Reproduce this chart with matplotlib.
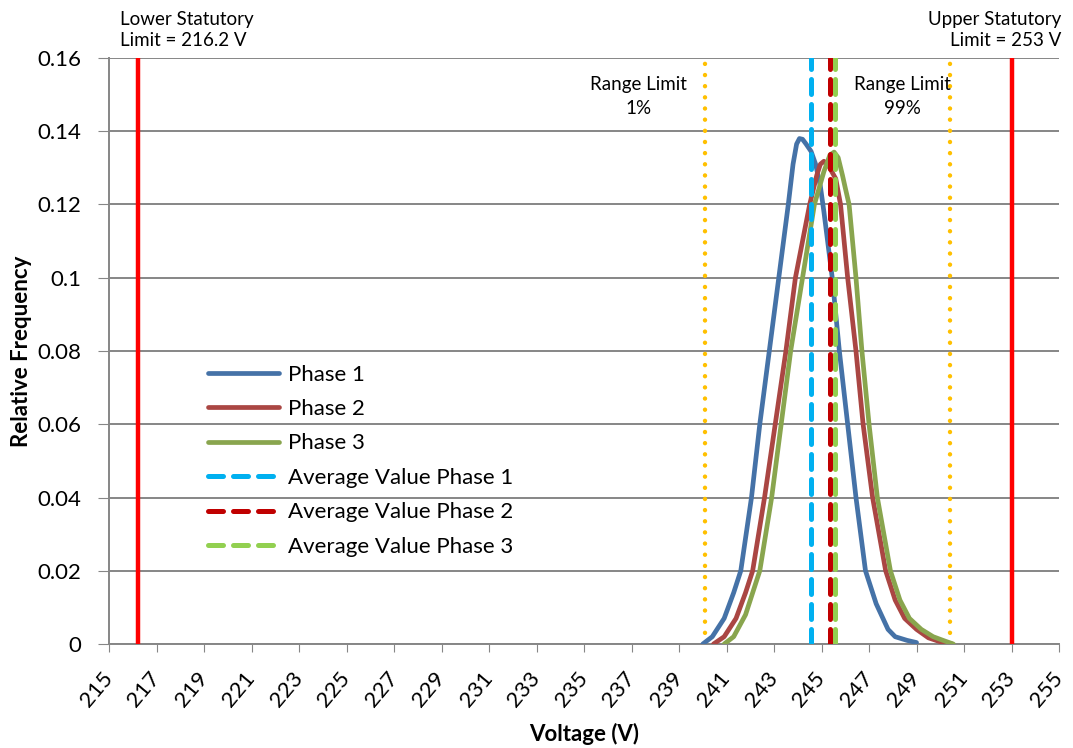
import numpy as np
import matplotlib
matplotlib.use("Agg")
import matplotlib.pyplot as plt
import matplotlib.transforms as mtransforms

plt.rcParams['font.family'] = ['Lato', 'DejaVu Sans']

# voltage distribution per phase (V, relative frequency)
v_phase1 = [240.0, 240.4, 240.9, 241.3, 241.6, 242.05, 242.4, 242.8, 243.2, 243.6, 243.8, 243.95,
            244.07, 244.2, 244.35, 244.56, 244.75, 244.95, 245.1, 245.45, 245.75, 246.1, 246.45,
            246.85, 247.3, 247.8, 248.1, 248.6, 249.0]
f_phase1 = [0.0, 0.002, 0.007, 0.014, 0.02, 0.04, 0.06, 0.08, 0.10, 0.12, 0.131, 0.1365,
            0.138, 0.1378, 0.1365, 0.1345, 0.131, 0.125, 0.118, 0.10, 0.08, 0.06, 0.04,
            0.02, 0.011, 0.004, 0.002, 0.001, 0.0004]

v_phase2 = [240.45, 240.9, 241.4, 241.8, 242.1, 242.6, 243.05, 243.5, 243.9, 244.5, 244.8, 244.95,
            245.1, 245.3, 245.6, 245.8, 246.1, 246.45, 246.75, 247.15, 247.7, 248.1, 248.5,
            249.0, 249.5, 250.0, 250.5]
f_phase2 = [0.0, 0.002, 0.007, 0.014, 0.02, 0.04, 0.06, 0.08, 0.10, 0.12, 0.128, 0.131,
            0.1318, 0.1305, 0.127, 0.12, 0.10, 0.08, 0.06, 0.04, 0.02, 0.012, 0.007,
            0.004, 0.0017, 0.0006, 0.0]

v_phase3 = [240.9, 241.3, 241.8, 242.1, 242.4, 242.9, 243.3, 243.7, 244.2, 244.7, 245.1, 245.35,
            245.53, 245.7, 245.88, 246.0, 246.16, 246.45, 246.7, 247.0, 247.35, 247.9, 248.3,
            248.7, 249.2, 249.7, 250.2, 250.55]
f_phase3 = [0.0, 0.002, 0.008, 0.014, 0.02, 0.04, 0.06, 0.08, 0.10, 0.12, 0.129, 0.1335,
            0.1343, 0.1328, 0.128, 0.1245, 0.12, 0.10, 0.08, 0.06, 0.04, 0.02, 0.012,
            0.007, 0.004, 0.002, 0.0008, 0.0]

avg_values = [244.55, 245.35, 245.57]
range_limits = [240.1, 250.4]
statutory_limits = [216.2, 253.0]

phase_names = ["Phase 1", "Phase 2", "Phase 3"]
avg_names = ["Average Value Phase 1", "Average Value Phase 2", "Average Value Phase 3"]
phase_colors = ["#4572A7", "#AA4643", "#89A54E"]
avg_colors = ["#00B0F0", "#C00000", "#92D050"]

x_ticks = list(range(215, 256, 2))
y_ticks = [0, 0.02, 0.04, 0.06, 0.08, 0.1, 0.12, 0.14, 0.16]
y_labels = ["0", "0.02", "0.04", "0.06", "0.08", "0.1", "0.12", "0.14", "0.16"]

fig = plt.figure(figsize=(10.73, 7.48), dpi=100)
ax = fig.add_axes([0.1016, 0.139, 0.8854, 0.7835])

ymax = y_ticks[-1]

for v in statutory_limits:
    ax.plot([v, v], [0, ymax], color="#FF0000", lw=3.2, zorder=3)

for v in range_limits:
    ax.plot([v, v], [0, ymax], color="#FFC000", lw=3.2, linestyle=(0, (0.01, 2.5)),
            dash_capstyle="round", zorder=3)

curves = [(v_phase1, f_phase1), (v_phase2, f_phase2), (v_phase3, f_phase3)]
for (xs, ys), name, c in zip(curves, phase_names, phase_colors):
    ax.plot(xs, ys, color=c, lw=3.4, solid_joinstyle="round", solid_capstyle="round",
            label=name, zorder=4)

for v, name, c in zip(avg_values, avg_names, avg_colors):
    ax.plot([v, v], [0, ymax], color=c, lw=3.6, linestyle=(0, (3.0, 2.0)),
            dash_capstyle="round", label=name, zorder=5)

ax.set_xlim(215, 255)
ax.set_ylim(0, ymax)
ax.set_xticks(x_ticks)
ax.set_xticklabels([str(t) for t in x_ticks], rotation=50, ha="right", va="center",
                   rotation_mode="anchor", fontsize=16)
# nudge rotated labels so they sit under their ticks
shift = mtransforms.ScaledTranslation(-3 / 72, 0, fig.dpi_scale_trans)
for lbl in ax.get_xticklabels():
    lbl.set_transform(lbl.get_transform() + shift)
ax.set_yticks(y_ticks)
ax.set_yticklabels(y_labels, fontsize=16)
ax.tick_params(axis="x", length=6, color="#868686", pad=16)
ax.tick_params(axis="y", length=8, color="#868686", pad=12)

ax.grid(axis="y", color="#868686", lw=1.4)
ax.set_axisbelow(True)
for s in ["top", "right"]:
    ax.spines[s].set_visible(False)
for s in ["left", "bottom"]:
    ax.spines[s].set_color("#868686")
    ax.spines[s].set_linewidth(1.4)

ax.set_xlabel("Voltage (V)", fontsize=16, fontweight="bold", labelpad=9)
ax.set_ylabel("Relative Frequency", fontsize=16, fontweight="bold", labelpad=4)

ax.text(statutory_limits[0] - 0.75, 0.1625, "Lower Statutory\nLimit = 216.2 V",
        fontsize=13.5, ha="left", va="bottom", linespacing=1.3)
ax.text(255.1, 0.1625, "Upper Statutory\nLimit = 253 V",
        fontsize=13.5, ha="right", va="bottom", linespacing=1.3)
ax.text(range_limits[0] - 2.8, 0.1496, "Range Limit\n1%",
        fontsize=13.5, ha="center", va="center", linespacing=1.5)
ax.text(range_limits[1] - 2.0, 0.1496, "Range Limit\n99%",
        fontsize=13.5, ha="center", va="center", linespacing=1.5)

ax.legend(loc="upper left", bbox_to_anchor=(0.095, 0.492), frameon=False, fontsize=16,
          handlelength=3.2, handletextpad=0.4, labelspacing=0.65, borderaxespad=0)

fig.savefig("out.png", dpi=100)
